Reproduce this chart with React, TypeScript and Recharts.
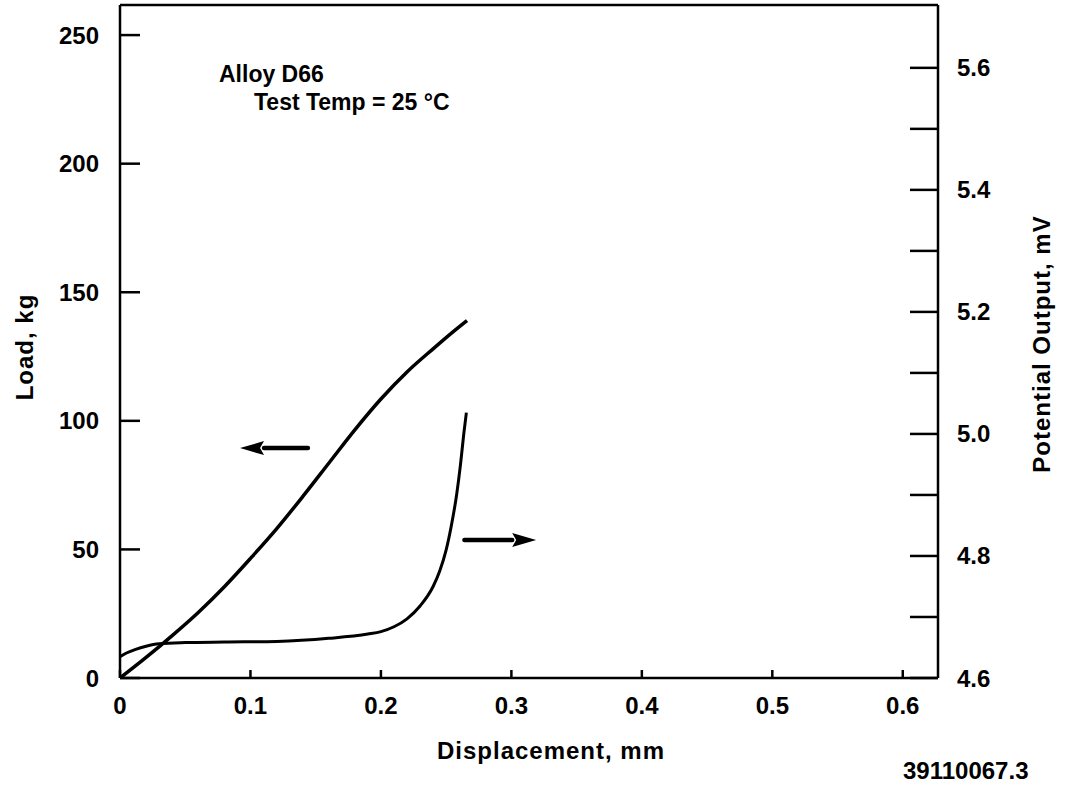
import React from "react";
import { ComposedChart, Line, XAxis, YAxis, ReferenceLine } from "recharts";

// load vs displacement (left axis)
const loadDisp = [0, 0.02, 0.04, 0.06, 0.08, 0.1, 0.12, 0.14, 0.16, 0.18, 0.2, 0.22, 0.24, 0.255, 0.266];
const loadKg = [0, 8, 16.5, 25.5, 35.5, 46.5, 58, 70.5, 83.5, 96.5, 108.5, 119, 128, 134.5, 139];

// potential output vs displacement (right axis)
const potDisp = [0, 0.005, 0.012, 0.02, 0.03, 0.05, 0.08, 0.12, 0.16, 0.19, 0.2, 0.21, 0.22, 0.23, 0.24, 0.245, 0.25, 0.254, 0.258, 0.261, 0.2635, 0.2655];
const potMv = [4.635, 4.641, 4.647, 4.652, 4.656, 4.658, 4.659, 4.66, 4.665, 4.672, 4.676, 4.684, 4.697, 4.718, 4.75, 4.775, 4.81, 4.85, 4.9, 4.95, 5.0, 5.035];

const xTicks = [0, 0.1, 0.2, 0.3, 0.4, 0.5, 0.6];
const loadTicks = [0, 50, 100, 150, 200, 250];
const mvTicks = [4.6, 4.7, 4.8, 4.9, 5.0, 5.1, 5.2, 5.3, 5.4, 5.5, 5.6];

const xDomain = [0, 0.627];
const loadDomain = [0, 261.7];
const mvDomain = [4.6, 5.703];

// arrows pointing at the axis each curve belongs to
const loadArrow = [{ x: 0.144, y: 89.4 }, { x: 0.092, y: 89.4 }];
const mvArrow = [{ x: 0.264, y: 53.7 }, { x: 0.319, y: 53.7 }];

const loadData = loadDisp.map((x, i) => ({ x, load: loadKg[i] }));
const potData = potDisp.map((x, i) => ({ x, mv: potMv[i] }));

const FONT = "'Liberation Sans', Arial, Helvetica, sans-serif";
const tickStyle = { fontSize: 24, fontWeight: 700, fill: "#000", fontFamily: FONT };
const axisStyle = { stroke: "#000", strokeWidth: 2.5 };

function Arrow(props: any) {
  const { x1, y1, x2, y2 } = props;
  const dir = x2 > x1 ? 1 : -1;
  const head = 24;
  const half = 7;
  const baseX = x2 - dir * head;
  return (
    <g>
      <line x1={x1} y1={y1} x2={baseX} y2={y2} stroke="#000" strokeWidth={4.5} strokeLinecap="round" />
      <polygon points={`${x2},${y2} ${baseX},${y2 - half} ${baseX + dir * 4},${y2} ${baseX},${y2 + half}`} fill="#000" />
    </g>
  );
}

export default function App() {
  return (
    <div style={{ position: "absolute", left: 0, top: 0, width: 1066, height: 791, background: "#fff" }}>
      <ComposedChart width={1066} height={791} margin={{ top: 5, right: 0, bottom: 0, left: 0 }} style={{ fontFamily: FONT }}>
        <XAxis
          type="number"
          dataKey="x"
          domain={xDomain}
          ticks={xTicks}
          interval={0}
          allowDataOverflow
          height={113}
          tickSize={-8}
          tickMargin={27}
          tick={tickStyle}
          tickLine={axisStyle}
          axisLine={axisStyle}
          tickFormatter={(v: number) => (v === 0 ? "0" : v.toFixed(1))}
        />
        <YAxis
          yAxisId="left"
          type="number"
          domain={loadDomain}
          ticks={loadTicks}
          interval={0}
          allowDataOverflow
          width={120}
          tickSize={-20}
          tickMargin={41}
          tick={tickStyle}
          tickLine={axisStyle}
          axisLine={axisStyle}
        />
        <YAxis
          yAxisId="right"
          orientation="right"
          type="number"
          domain={mvDomain}
          ticks={mvTicks}
          interval={0}
          allowDataOverflow
          width={128}
          tickSize={-28}
          tickMargin={47}
          tick={tickStyle}
          tickLine={axisStyle}
          axisLine={axisStyle}
          tickFormatter={(v: number) => (Math.round(v * 10) % 2 === 0 ? v.toFixed(1) : "")}
        />
        <ReferenceLine yAxisId="right" y={mvDomain[1]} stroke="#000" strokeWidth={2.5} />
        <ReferenceLine yAxisId="left" segment={loadArrow} shape={(p: any) => <Arrow {...p} />} />
        <ReferenceLine yAxisId="left" segment={mvArrow} shape={(p: any) => <Arrow {...p} />} />
        <Line
          yAxisId="left"
          data={loadData}
          dataKey="load"
          type="monotone"
          stroke="#000"
          strokeWidth={3.5}
          dot={false}
          activeDot={false}
          isAnimationActive={false}
        />
        <Line
          yAxisId="right"
          data={potData}
          dataKey="mv"
          type="monotone"
          stroke="#000"
          strokeWidth={3}
          dot={false}
          activeDot={false}
          isAnimationActive={false}
        />
      </ComposedChart>
      <svg
        width={1066}
        height={791}
        style={{ position: "absolute", left: 0, top: 0, pointerEvents: "none" }}
        fontFamily={FONT}
        fontWeight={700}
        fill="#000"
      >
        <text x={219} y={82} fontSize={23}>Alloy D66</text>
        <text x={254} y={110} fontSize={23}>Test Temp = 25 °C</text>
        <text x={551} y={759} fontSize={24} textAnchor="middle" letterSpacing={1}>Displacement, mm</text>
        <text x={33} y={347} fontSize={24} textAnchor="middle" letterSpacing={1} transform="rotate(-90 33 347)">Load, kg</text>
        <text x={1050} y={344} fontSize={24} textAnchor="middle" letterSpacing={1} transform="rotate(-90 1050 344)">Potential Output, mV</text>
        <text x={903} y={779} fontSize={24}>39110067.3</text>
      </svg>
    </div>
  );
}
